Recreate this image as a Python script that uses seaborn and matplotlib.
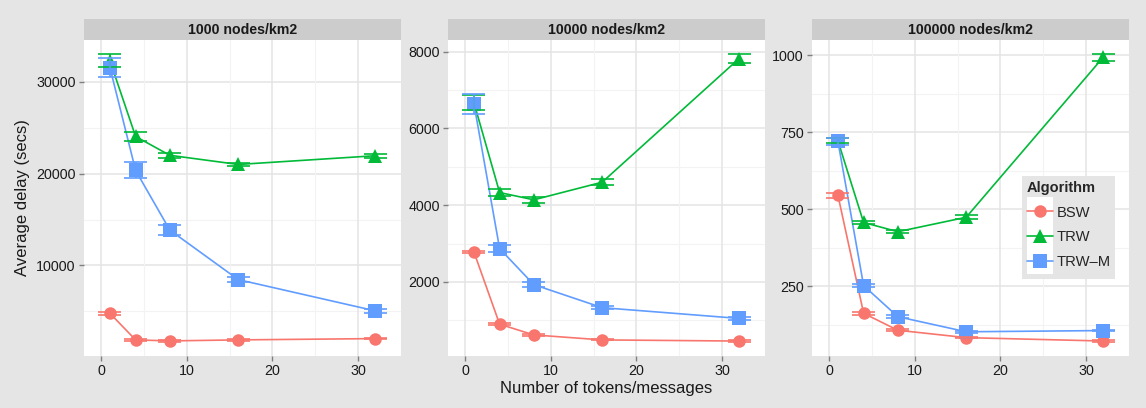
import numpy as np
import pandas as pd
import matplotlib
matplotlib.use("Agg")
import matplotlib.pyplot as plt
from matplotlib.patches import Rectangle
from matplotlib.lines import Line2D
import seaborn as sns

# ---------------- data ----------------
tokens = [1, 4, 8, 16, 32]
algorithms = ["BSW", "TRW", "TRW-M"]
densities = ["1000 nodes/km2", "10000 nodes/km2", "100000 nodes/km2"]

# 1000 nodes/km2
d1_bsw = [4770, 1880, 1770, 1880, 2020]
d1_bsw_err = [150, 100, 80, 80, 80]
d1_trw = [32300, 24050, 22000, 21000, 21950]
d1_trw_err = [700, 450, 250, 200, 200]
d1_trwm = [31550, 20350, 13850, 8450, 5050]
d1_trwm_err = [1000, 870, 580, 300, 200]

# 10000 nodes/km2
d2_bsw = [2780, 900, 620, 490, 460]
d2_bsw_err = [30, 30, 20, 15, 15]
d2_trw = [6670, 4330, 4140, 4600, 7820]
d2_trw_err = [190, 90, 70, 80, 110]
d2_trwm = [6640, 2870, 1930, 1330, 1050]
d2_trwm_err = [270, 90, 60, 40, 30]

# 100000 nodes/km2
d3_bsw = [545, 162, 107, 83, 72]
d3_bsw_err = [8, 5, 3, 2, 2]
d3_trw = [722, 457, 427, 474, 993]
d3_trw_err = [8, 5, 5, 6, 10]
d3_trwm = [720, 252, 151, 102, 106]
d3_trwm_err = [10, 5, 4, 3, 3]

y_ticks = [[10000, 20000, 30000], [2000, 4000, 6000, 8000], [250, 500, 750, 1000]]
y_minor = [[5000, 15000, 25000, 35000], [1000, 3000, 5000, 7000], [125, 375, 625, 875]]
x_ticks = [0, 10, 20, 30]
x_minor = [5, 15, 25, 35]
legend_labels = ["BSW", "TRW", "TRW\u2013M"]

series = {
    densities[0]: {"BSW": (d1_bsw, d1_bsw_err), "TRW": (d1_trw, d1_trw_err), "TRW-M": (d1_trwm, d1_trwm_err)},
    densities[1]: {"BSW": (d2_bsw, d2_bsw_err), "TRW": (d2_trw, d2_trw_err), "TRW-M": (d2_trwm, d2_trwm_err)},
    densities[2]: {"BSW": (d3_bsw, d3_bsw_err), "TRW": (d3_trw, d3_trw_err), "TRW-M": (d3_trwm, d3_trwm_err)},
}

rows = []
for dens in densities:
    for alg in algorithms:
        vals, errs = series[dens][alg]
        for t, v, e in zip(tokens, vals, errs):
            rows.append({"density": dens, "Algorithm": alg, "tokens": t, "delay": v, "err": e})
df = pd.DataFrame(rows)

palette = {"BSW": "#F8766D", "TRW": "#00BA38", "TRW-M": "#619CFF"}
markers = {"BSW": "o", "TRW": "^", "TRW-M": "s"}
msize = {"BSW": 9.0, "TRW": 10.5, "TRW-M": 9.5}

# ---------------- figure ----------------
sns.set_theme(style="white")
plt.rcParams["font.family"] = ["Liberation Sans", "DejaVu Sans"]

W, H = 1146, 408
fig = plt.figure(figsize=(W / 100, H / 100), dpi=100)
fig.patch.set_facecolor("#e5e5e5")

panel_left = [84, 448, 812]
panel_w = 317
panel_top, panel_bottom = 40, 356
strip_top = 19
cap_half = 1.35  # half of errorbar cap width in x units

for i, dens in enumerate(densities):
    L = panel_left[i]
    ax = fig.add_axes([L / W, (H - panel_bottom) / H, panel_w / W, (panel_bottom - panel_top) / H])
    ax.set_facecolor("white")
    sub = df[df["density"] == dens]

    # grid
    for y in y_ticks[i]:
        ax.axhline(y, color="#e4e4e4", lw=1.1, zorder=0)
    for y in y_minor[i]:
        ax.axhline(y, color="#f3f3f3", lw=0.8, zorder=0)
    for x in x_ticks:
        ax.axvline(x, color="#e4e4e4", lw=1.1, zorder=0)
    for x in x_minor:
        ax.axvline(x, color="#f3f3f3", lw=0.8, zorder=0)

    sns.lineplot(data=sub, x="tokens", y="delay", hue="Algorithm", style="Algorithm",
                 hue_order=algorithms, style_order=algorithms,
                 palette=palette, markers=markers, dashes=False, lw=1.2,
                 markersize=9.5, markeredgewidth=0, ax=ax, legend=False, zorder=3)
    for line, alg in zip(ax.get_lines()[-3:], algorithms):
        line.set_markersize(msize[alg])

    # error bars
    for alg in algorithms:
        s = sub[sub["Algorithm"] == alg]
        c = palette[alg]
        x = s["tokens"].to_numpy()
        y = s["delay"].to_numpy()
        e = s["err"].to_numpy()
        ax.vlines(x, y - e, y + e, color=c, lw=1.2, zorder=4)
        ax.hlines(y - e, x - cap_half, x + cap_half, color=c, lw=1.2, zorder=4)
        ax.hlines(y + e, x - cap_half, x + cap_half, color=c, lw=1.2, zorder=4)

    # limits (ggplot-like 5% expansion)
    lo = (sub["delay"] - sub["err"]).min()
    hi = (sub["delay"] + sub["err"]).max()
    pad = 0.05 * (hi - lo)
    ax.set_ylim(lo - pad, hi + pad)
    xlo = min(tokens) - cap_half
    xhi = max(tokens) + cap_half
    xpad = 0.05 * (xhi - xlo)
    ax.set_xlim(xlo - xpad, xhi + xpad)

    ax.set_yticks(y_ticks[i])
    ax.set_yticklabels([str(v) for v in y_ticks[i]])
    ax.set_xticks(x_ticks)
    ax.set_xticklabels([str(v) for v in x_ticks])
    ax.tick_params(axis="both", which="major", length=3.5, width=1, color="#7f7f7f",
                   labelsize=10.3, labelcolor="#1a1a1a", pad=2.5, direction="out",
                   left=True, bottom=True)
    for sp in ax.spines.values():
        sp.set_visible(False)
    ax.set_xlabel("")
    ax.set_ylabel("")

    # strip
    sax = fig.add_axes([L / W, (H - panel_top) / H, panel_w / W, (panel_top - strip_top) / H])
    sax.set_facecolor("#cccccc")
    sax.set_xticks([])
    sax.set_yticks([])
    for sp in sax.spines.values():
        sp.set_visible(False)
    sax.text(0.5, 0.47, dens, ha="center", va="center", fontsize=10.2, fontweight="bold",
             color="#1a1a1a", transform=sax.transAxes)

# axis titles
fig.text(606 / W, 1 - 389 / H, "Number of tokens/messages", ha="center", va="center",
         fontsize=12, color="#1a1a1a")
fig.text(23 / W, 1 - 198 / H, "Average delay (secs)", ha="center", va="center",
         rotation=90, fontsize=12, color="#1a1a1a")

# legend: gray box + white key area + legend entries
fig.patches.append(Rectangle((1022 / W, 1 - 279 / H), 93 / W, 103 / H,
                             transform=fig.transFigure, facecolor="#e5e5e5",
                             edgecolor="none", zorder=5))
fig.patches.append(Rectangle((1027 / W, 1 - 274 / H), 26 / W, 77 / H,
                             transform=fig.transFigure, facecolor="white",
                             edgecolor="none", zorder=6))
handles = [Line2D([0], [0], color=palette[a], lw=1.2, marker=markers[a],
                  markersize=msize[a], markeredgewidth=0) for a in algorithms]
leg = fig.legend(handles, legend_labels, title="Algorithm", loc="upper left",
                 bbox_to_anchor=(1027 / W, 1 - 181 / H), frameon=False,
                 fontsize=10.6, title_fontproperties={"weight": "bold", "size": 10.5},
                 handlelength=1.75, handletextpad=0.25, labelspacing=0.72,
                 borderpad=0, borderaxespad=0, alignment="left")
leg.set_zorder(7)

fig.savefig("out.png", dpi=100, facecolor=fig.get_facecolor())
